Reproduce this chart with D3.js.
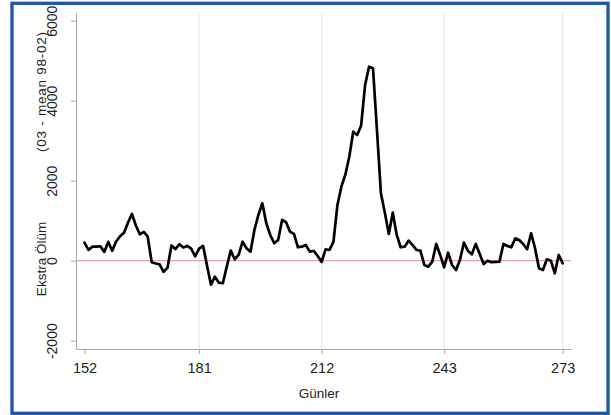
<!DOCTYPE html>
<html>
<head>
<meta charset="utf-8">
<script src="https://cdn.jsdelivr.net/npm/d3@7"></script>
<style>
  html, body { margin: 0; padding: 0; background: #fff; }
  svg { display: block; font-family: "Liberation Sans", Arial, sans-serif; }
  svg text { font-family: "Liberation Sans", Arial, sans-serif; }
</style>
</head>
<body>
<svg id="chart" width="611" height="415"></svg>
<script>
// ---- data ----
const days = [152,153,154,155,156,157,158,159,160,161,162,163,164,165,166,167,168,169,170,171,
  172,173,174,175,176,177,178,179,180,181,182,183,184,185,186,187,188,189,190,191,
  192,193,194,195,196,197,198,199,200,201,202,203,204,205,206,207,208,209,210,211,
  212,213,214,215,216,217,218,219,220,221,222,223,224,225,226,227,228,229,230,231,
  232,233,234,235,236,237,238,239,240,241,242,243,244,245,246,247,248,249,250,251,
  252,253,254,255,256,257,258,259,260,261,262,263,264,265,266,267,268,269,270,271,
  272,273];
const extraDeaths = [450,270,350,350,360,220,470,250,480,610,700,950,1170,880,660,720,600,-40,-70,-90,
  -280,-180,380,290,410,330,370,300,110,300,370,-120,-600,-400,-550,-565,-150,250,35,143,
  475,310,225,768,1143,1435,935,643,435,518,1018,960,725,668,335,350,393,225,243,118,
  -30,285,268,475,1393,1850,2150,2600,3225,3143,3380,4393,4850,4810,3268,1685,1200,668,1200,643,
  335,350,500,393,268,250,-108,-150,-25,418,143,-165,200,-108,-233,18,450,250,160,418,
  168,-83,0,-40,-30,-25,418,368,335,560,518,418,285,685,310,-190,-233,35,0,-315,
  143,-65];
const xTicks = [152, 181, 212, 243, 273];
const xGrid = [181, 212, 243, 273];
const yTicks = [-2000, 0, 2000, 4000, 6000];
const xTitle = "Günler";
const yTitle1 = "Ekstra Ölüm";
const yTitle2 = "(03 - mean 98-02)";

// ---- layout ----
const svg = d3.select("#chart");
const pLeft = 76, pRight = 571, pTop = 13, pBottom = 349;

const x = d3.scaleLinear().domain([149.85, 275.1]).range([pLeft, pRight]);
const y = d3.scaleLinear().domain([-2208, 6192]).range([pBottom, pTop]);

// frame
svg.append("rect")
  .attr("x", 12).attr("y", 3.3).attr("width", 596).attr("height", 410)
  .attr("fill", "none").attr("stroke", "#1d56a5").attr("stroke-width", 3.3);

// vertical gridlines
svg.append("g").selectAll("line").data(xGrid).join("line")
  .attr("x1", d => x(d)).attr("x2", d => x(d))
  .attr("y1", pTop).attr("y2", pBottom)
  .attr("stroke", "#e3e3e3").attr("stroke-width", 1);

// zero line
svg.append("line")
  .attr("x1", pLeft).attr("x2", pRight)
  .attr("y1", y(0)).attr("y2", y(0))
  .attr("stroke", "#e6a4ae").attr("stroke-width", 1.2);

// axes
const axisColor = "#a8a8a8";
const fmt = d => String(d);
const gx = svg.append("g").attr("transform", `translate(0,${pBottom})`)
  .call(d3.axisBottom(x).tickValues(xTicks).tickFormat(fmt).tickSize(5).tickSizeOuter(0))
  .attr("font-family", null).attr("font-size", null);
gx.select(".domain").attr("stroke", axisColor);
gx.selectAll(".tick line").attr("stroke", axisColor);
gx.selectAll(".tick text")
  .attr("y", 23.5).attr("dy", 0)
  .attr("fill", "#222").style("font-size", "14.5px");

const gy = svg.append("g").attr("transform", `translate(${pLeft},0)`)
  .call(d3.axisLeft(y).tickValues(yTicks).tickFormat(fmt).tickSize(5).tickSizeOuter(0))
  .attr("font-family", null).attr("font-size", null);
gy.select(".domain").attr("stroke", axisColor);
gy.selectAll(".tick line").attr("stroke", axisColor);
gy.selectAll(".tick text")
  .attr("transform", "rotate(-90)")
  .attr("x", 0).attr("y", -19).attr("dy", 0)
  .style("text-anchor", "middle")
  .attr("fill", "#222").style("font-size", "14px");

// titles
svg.append("text")
  .attr("x", 319).attr("y", 398)
  .attr("text-anchor", "middle")
  .attr("fill", "#222").style("font-size", "13.5px")
  .text(xTitle);

svg.append("text")
  .attr("transform", "translate(46,259) rotate(-90)")
  .attr("text-anchor", "middle")
  .attr("fill", "#222").style("font-size", "13.5px")
  .text(yTitle1);

svg.append("text")
  .attr("transform", "translate(46,92) rotate(-90)")
  .attr("text-anchor", "middle")
  .attr("fill", "#222").style("font-size", "13.5px")
  .attr("textLength", 120).attr("lengthAdjust", "spacing")
  .text(yTitle2);

// data line
const pts = days.map((d, i) => [d, extraDeaths[i]]);
svg.append("path")
  .datum(pts)
  .attr("fill", "none")
  .attr("stroke", "#000")
  .attr("stroke-width", 2.7)
  .attr("stroke-linejoin", "round")
  .attr("stroke-linecap", "round")
  .attr("d", d3.line().x(d => x(d[0])).y(d => y(d[1])));
</script>
</body>
</html>
